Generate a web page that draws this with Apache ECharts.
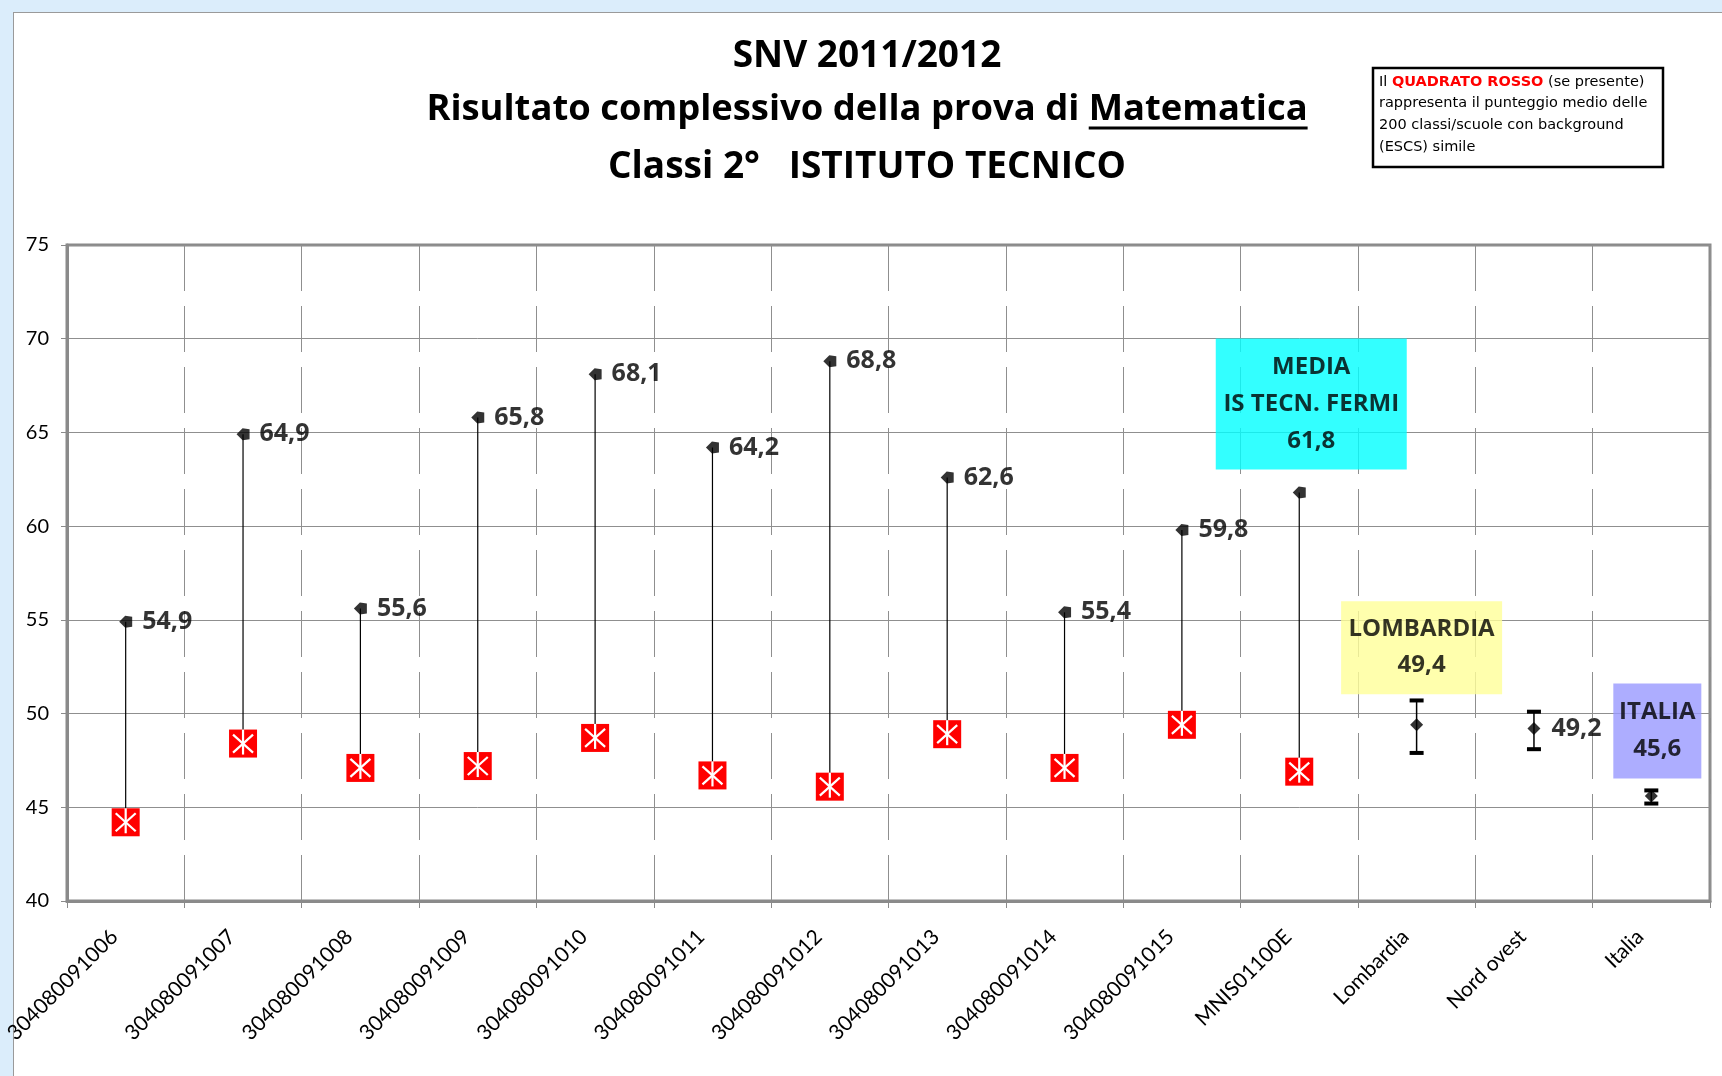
<!DOCTYPE html>
<html>
<head>
<meta charset="utf-8">
<title>SNV 2011/2012 - Matematica</title>
<script src="https://cdn.jsdelivr.net/npm/echarts@6/dist/echarts.min.js"></script>
<style>
  html, body { margin: 0; padding: 0; background: #dbedfb; overflow: hidden; }
  #frame {
    position: absolute; left: 13px; top: 12px; right: 0; bottom: 0;
    background: #fff; border-left: 1.5px solid #9a9a9a; border-top: 1.5px solid #9a9a9a;
  }
  #chart { position: absolute; left: 0; top: 0; width: 1722px; height: 1076px; }
</style>
</head>
<body>
<div id="frame"></div>
<div id="chart"></div>
<script>
// categorie (classi, istituto, riferimenti)
var categorie = [
  "304080091006", "304080091007", "304080091008", "304080091009",
  "304080091010", "304080091011", "304080091012", "304080091013",
  "304080091014", "304080091015", "MNIS01100E", "Lombardia",
  "Nord ovest", "Italia"
];
// punteggio medio di ogni classe / riferimento
var punteggi = [54.9, 64.9, 55.6, 65.8, 68.1, 64.2, 68.8, 62.6, 55.4, 59.8, 61.8, 49.4, 49.2, 45.6];
// quadrato rosso: classi con background (ESCS) simile
var quadratoRosso = [44.2, 48.4, 47.1, 47.2, 48.7, 46.7, 46.1, 48.9, 47.1, 49.4, 46.9];
// intervalli (barre di errore) per i riferimenti
var erroreMin = [null, null, null, null, null, null, null, null, null, null, null, 47.9, 48.1, 45.2];
var erroreMax = [null, null, null, null, null, null, null, null, null, null, null, 50.7, 50.1, 45.9];
// tacche asse y
var yTicks = [40, 45, 50, 55, 60, 65, 70, 75];

function virgola(v) {
  return v.toFixed(1).replace(".", ",");
}

var FONT = "Lato, 'Open Sans', sans-serif";
var FONT_B = "'Open Sans', Lato, sans-serif";

// etichette a riquadro colorato (MEDIA, LOMBARDIA, ITALIA)
var riquadri = {
  10: {
    formatter: "MEDIA\nIS TECN. FERMI\n" + virgola(punteggi[10]),
    backgroundColor: "#00ffff", width: 191, padding: [10, 0, 10, 0], lineHeight: 37,
    position: "top", distance: 17, offset: [12, 0]
  },
  11: {
    formatter: "LOMBARDIA\n" + virgola(punteggi[11]),
    backgroundColor: "#ffff99", width: 161, padding: [10, 0, 11, 0], lineHeight: 36,
    position: "top", distance: 24, offset: [5, 0]
  },
  13: {
    formatter: "ITALIA\n" + virgola(punteggi[13]),
    backgroundColor: "#9999ff", width: 88, padding: [10, 0, 11, 0], lineHeight: 37,
    position: "top", distance: 11, offset: [6, 0]
  }
};

var datiPunteggi = punteggi.map(function (v, i) {
  var item = { value: v };
  if (i >= quadratoRosso.length) {
    item.symbol = "diamond";
    item.symbolSize = [13, 13];
    item.label = { distance: 11 };
  }
  if (riquadri[i]) {
    item.label = Object.assign({ align: "center", fontSize: 24 }, riquadri[i]);
  }
  return item;
});

var datiLinee = quadratoRosso.map(function (r, i) {
  return [i, punteggi[i], r];
});
var datiQuadrati = quadratoRosso.map(function (r, i) {
  return [i, r];
});
var datiErrori = [];
erroreMin.forEach(function (lo, i) {
  if (lo != null) datiErrori.push([i, lo, erroreMax[i]]);
});

// misura del testo per sottolineare "Matematica"
var TITLE_FONT = "bold 37px 'Open Sans'";
var TITLE_FONT2 = "bold 36.4px 'Open Sans'";
var ctx = document.createElement("canvas").getContext("2d");
ctx.font = TITLE_FONT2;
var parte1 = "Risultato complessivo della prova di ";
var parte2 = "Matematica";
var w1 = ctx.measureText(parte1).width;
var w2 = ctx.measureText(parte2).width;
var titoloX = 867;
var riga2X = titoloX - (w1 + w2) / 2;

var myChart = echarts.init(document.getElementById("chart"));
myChart.setOption({
  backgroundColor: "transparent",
  animation: false,
  textStyle: { fontFamily: FONT },
  grid: {
    left: 67,
    right: 12,
    top: 245,
    bottom: 175,
    outerBoundsMode: "none",
    containLabel: false,
    show: true,
    borderColor: "#8a8a8a",
    borderWidth: 3
  },
  graphic: [
    {
      type: "text", x: titoloX, y: 56,
      style: { text: "SNV 2011/2012", font: TITLE_FONT, fill: "#000", align: "center", verticalAlign: "middle" }
    },
    {
      type: "text", x: riga2X, y: 110,
      style: { text: parte1, font: TITLE_FONT2, fill: "#000", align: "left", verticalAlign: "middle" }
    },
    {
      type: "text", x: riga2X + w1, y: 110,
      style: { text: parte2, font: TITLE_FONT2, fill: "#000", align: "left", verticalAlign: "middle" }
    },
    {
      type: "rect", shape: { x: riga2X + w1, y: 126.5, width: w2, height: 3 },
      style: { fill: "#000" }
    },
    {
      type: "text", x: titoloX, y: 167,
      style: { text: "Classi 2°   ISTITUTO TECNICO", font: TITLE_FONT, fill: "#000", align: "center", verticalAlign: "middle" }
    },
    {
      type: "rect", shape: { x: 1373, y: 68, width: 290, height: 99 },
      style: { fill: "#fff", stroke: "#000", lineWidth: 2.5 }
    },
    {
      type: "text", x: 1379, y: 71,
      style: {
        text: "Il {r|QUADRATO ROSSO} (se presente)\nrappresenta il punteggio medio delle\n200 classi/scuole con background\n(ESCS) simile",
        font: "14.5px 'DejaVu Sans', sans-serif",
        fill: "#000",
        lineHeight: 21.7,
        rich: {
          r: { fill: "#ff0000", fontWeight: "bold", fontSize: 14.5, fontFamily: "'DejaVu Sans', sans-serif" }
        }
      }
    }
  ],
  xAxis: {
    type: "category",
    data: categorie,
    boundaryGap: true,
    axisLine: { lineStyle: { color: "#8a8a8a", width: 3 } },
    axisTick: { show: true, length: 7, lineStyle: { color: "#8a8a8a", width: 1 } },
    axisLabel: {
      rotate: 45,
      interval: 0,
      margin: 21,
      padding: [0, 16, 0, 0],
      fontSize: 21,
      fontFamily: FONT,
      color: "#000"
    },
    splitLine: {
      show: true,
      lineStyle: { color: "#8f8f8f", width: 1, type: [46, 15] }
    }
  },
  yAxis: {
    type: "value",
    min: yTicks[0],
    max: yTicks[yTicks.length - 1],
    interval: yTicks[1] - yTicks[0],
    axisLine: { show: true, lineStyle: { color: "#8a8a8a", width: 3 } },
    axisTick: { show: true, length: 6, lineStyle: { color: "#8a8a8a", width: 1 } },
    axisLabel: { fontSize: 20, fontFamily: FONT, color: "#000", margin: 18 },
    splitLine: { show: true, lineStyle: { color: "#8f8f8f", width: 1 } }
  },
  series: [
    {
      // linee verticali tra punteggio e quadrato rosso
      type: "custom",
      z: 2,
      data: datiLinee,
      encode: { x: 0, y: [1, 2] },
      renderItem: function (params, api) {
        var a = api.coord([api.value(0), api.value(1)]);
        var b = api.coord([api.value(0), api.value(2)]);
        return {
          type: "line",
          shape: { x1: a[0], y1: a[1], x2: b[0], y2: b[1] },
          style: { stroke: "#000", lineWidth: 1.2 }
        };
      }
    },
    {
      // barre di errore dei riferimenti
      type: "custom",
      z: 2,
      data: datiErrori,
      encode: { x: 0, y: [1, 2] },
      renderItem: function (params, api) {
        var lo = api.coord([api.value(0), api.value(1)]);
        var hi = api.coord([api.value(0), api.value(2)]);
        return {
          type: "group",
          children: [
            { type: "line", shape: { x1: lo[0], y1: lo[1], x2: hi[0], y2: hi[1] }, style: { stroke: "#000", lineWidth: 1.5 } },
            { type: "rect", shape: { x: hi[0] - 7, y: hi[1] - 2, width: 14, height: 4 }, style: { fill: "#000" } },
            { type: "rect", shape: { x: lo[0] - 7, y: lo[1] - 2, width: 14, height: 4 }, style: { fill: "#000" } }
          ]
        };
      }
    },
    {
      // punteggi
      type: "scatter",
      z: 3,
      data: datiPunteggi,
      symbol: "path://M0,6 L6,0 L13,1 L13,11 L6,12 Z",
      symbolSize: [13, 12],
      itemStyle: { color: "#000" },
      label: {
        show: true,
        position: "right",
        distance: 10,
        formatter: function (p) { return virgola(p.value); },
        fontSize: 25,
        fontWeight: "bold",
        fontFamily: FONT_B,
        color: "#000"
      }
    },
    {
      // quadrato rosso
      type: "custom",
      z: 4,
      data: datiQuadrati,
      encode: { x: 0, y: 1 },
      renderItem: function (params, api) {
        var p = api.coord([api.value(0), api.value(1)]);
        var h = 14;
        var bianco = { stroke: "#fff", lineWidth: 2.2 };
        return {
          type: "group",
          children: [
            { type: "rect", shape: { x: p[0] - h, y: p[1] - h, width: 2 * h, height: 2 * h }, style: { fill: "#ff0000" } },
            { type: "line", shape: { x1: p[0], y1: p[1] - h, x2: p[0], y2: p[1] + h - 3 }, style: bianco },
            { type: "line", shape: { x1: p[0] - 10, y1: p[1] - 9, x2: p[0] + 10, y2: p[1] + 9 }, style: bianco },
            { type: "line", shape: { x1: p[0] + 10, y1: p[1] - 9, x2: p[0] - 10, y2: p[1] + 9 }, style: bianco }
          ]
        };
      }
    }
  ]
});
</script>
</body>
</html>
